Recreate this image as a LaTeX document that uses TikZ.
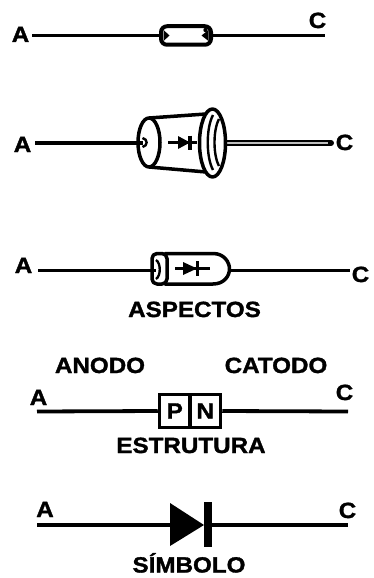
\documentclass[tikz,border=0pt]{standalone}
\usepackage{fontspec}
\newfontfamily\lblfont{Liberation Sans}[FakeStretch=1.1,FakeBold=1.5]
\begin{document}
\begin{tikzpicture}[x=1pt,y=-1pt,
  lbl/.style={font=\lblfont\bfseries\fontsize{22}{24}\selectfont, inner sep=0pt, anchor=base},
  lead/.style={line width=3.8pt},
  outline/.style={line width=3.5pt, line join=round},
  thin mark/.style={line width=2.4pt},
]
\useasboundingbox (0,0) rectangle (373,578);

% ---------- glass diode ----------
\coordinate (a1) at (32,35.5);
\coordinate (c1) at (325,35.5);
\node[draw, line width=4pt, rounded corners=6pt, minimum width=50pt,
      minimum height=18.5pt, inner sep=0pt] (b1) at (186,35.5) {};
\fill (163.5,30) -- (169.5,35.5) -- (163.5,41) -- cycle;
\fill (208.5,30) -- (201.5,35.5) -- (208.5,41) -- cycle;
\fill (205.5,30) circle[radius=2.2];
\draw[lead] (a1) -- (b1.west);
\draw[lead] (b1.east) -- (c1);
\node[lbl] (la1) at (20.5,42) {A};
\node[lbl] (lc1) at (317.5,28) {C};

% ---------- cylinder with flange ----------
\coordinate (a2) at (35,143);
\coordinate (e2) at (143,143);
\coordinate (f2) at (224,143);
\coordinate (c2) at (331,143);
\draw[lead] (a2) -- (e2);
\draw[line width=6pt, line cap=round] (f2) -- (c2);
\draw[line width=1.8pt, gray!50] (226,143) -- (328,143);
\fill[white] (149,118) -- (206,114) -- (206,172) -- (149,167) -- cycle;
\draw[outline] (149,118) -- (206,114);
\draw[outline] (149,167) -- (206,172);
\filldraw[fill=white, outline] (149,142.5) ellipse[x radius=11, y radius=24.5];
\draw[lead] (137,143) -- (e2);
\draw[thin mark] (142.5,138) .. controls (148,139) and (148,146) .. (142.5,147);
\filldraw[fill=white, outline] (212.5,143) ellipse[x radius=13, y radius=34];
\draw[thin mark] (213,115) .. controls (206,128) and (206,157) .. (213,170);
\draw[thin mark] (219,119) .. controls (213,130) and (213,155) .. (219,166);
% symbol printed on the body
\draw[line width=3pt] (168,142.5) -- (197,142.5);
\fill (178,136) -- (178,149) -- (190,142.5) -- cycle;
\draw[line width=3.5pt] (190,135.5) -- (190,149.5);
\node[lbl] (la2) at (22.5,152) {A};
\node[lbl] (lc2) at (344.5,150) {C};

% ---------- bullet-shaped body ----------
\coordinate (a3) at (38,270.5);
\coordinate (b3w) at (152,270.5);
\coordinate (b3e) at (229,270.5);
\coordinate (c3) at (350,270.5);
\draw[lead] (a3) -- (b3w);
\draw[lead] (b3e) -- (c3);
\filldraw[fill=white, outline] (165,253.5) -- (213,253.5)
   .. controls (224,253.5) and (229.5,262) .. (229.5,269)
   .. controls (229.5,276) and (224,284) .. (213,284) -- (165,284) -- cycle;
\filldraw[fill=white, outline, rounded corners=5pt] (167,253.5) rectangle (152,284);
\draw[lead] (150,270.5) -- (156,270.5);
\draw[thin mark] (156,260) .. controls (161,263) and (161,276) .. (156,279);
\draw[line width=3pt] (175,268.5) -- (210,268.5);
\fill (183,262) -- (183,275) -- (197,268.5) -- cycle;
\draw[line width=3.5pt] (197.5,261) -- (197.5,276);
\node[lbl] (la3) at (23.5,273) {A};
\node[lbl] (lc3) at (360.5,282) {C};
\node[lbl] (t1) at (194.5,317) {ASPECTOS};

% ---------- structure ----------
\node[lbl] (anodo) at (100,373) {ANODO};
\node[lbl] (catodo) at (276,373) {CATODO};
\coordinate (a4) at (37,411.5);
\coordinate (c4) at (348,411.5);
\node[draw, line width=3.5pt, minimum width=30.5pt, minimum height=33pt, inner sep=0pt,
      font=\lblfont\bfseries\fontsize{22}{24}\selectfont] (p) at (174.75,411) {P};
\node[draw, line width=3.5pt, minimum width=30.5pt, minimum height=33pt, inner sep=0pt,
      font=\lblfont\bfseries\fontsize{22}{24}\selectfont] (n) at (205.25,411) {N};
\draw[lead] (a4) -- (p.west);
\draw[lead] (n.east) -- (c4);
\node[lbl] (la4) at (38.5,405) {A};
\node[lbl] (lc4) at (344.5,400) {C};
\node[lbl] (t2) at (191,453) {ESTRUTURA};

% ---------- symbol ----------
\coordinate (a5) at (37,525);
\coordinate (k5) at (207.5,525);
\coordinate (c5) at (348,525);
\draw[lead] (a5) -- (170,525);
\fill (170,503) -- (204,525) -- (170,546) -- cycle;
\draw[line width=8pt] (207.5,502) -- (207.5,547);
\draw[lead] (k5) -- (c5);
\node[lbl] (la5) at (45,517) {A};
\node[lbl] (lc5) at (347.5,518) {C};
\node[lbl] (t3) at (189,572.5) {SÍMBOLO};
\end{tikzpicture}
\end{document}
